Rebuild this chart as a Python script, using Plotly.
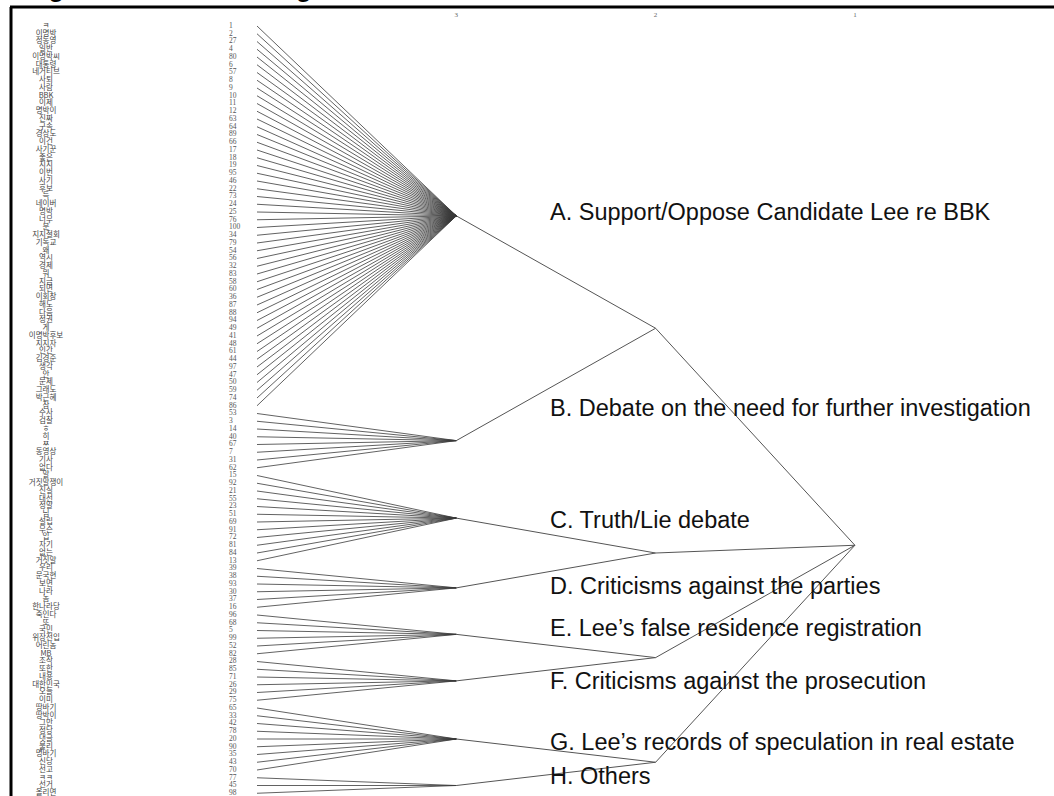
import plotly.graph_objects as go

# ---------------- data ----------------
leaf_words = [
    "ㅋ", "이명박", "정동영", "일반", "이명박씨", "대통령", "네거티브", "사퇴", "사람", "BBK",
    "이제", "명박이", "진짜", "구속", "경상도", "이건", "사기꾼", "좋은", "지지", "이번",
    "사기", "후보", "득", "네이버", "명박", "너무", "분", "지지철회", "기독교", "왜",
    "역시", "경제", "뭐", "지금", "되면", "이회창", "해도", "다음", "정권", "게",
    "이명박후보", "지지자", "인간", "김경준", "생각", "안", "문제", "그래도", "박근혜", "참",
    "수사", "검찰", "ㅎ", "히", "ㅉ", "동영상", "기사", "없다",
    "말", "거짓말쟁이", "진실", "대선", "정말", "님", "설립", "무슨", "입", "자기", "없는", "거짓말",
    "우리", "문국현", "보면", "나라", "놈", "한나라당",
    "죽인다", "또", "국민", "위장전입", "어린놈", "MB",
    "조작", "또한", "내용", "대한민국", "오늘", "이미",
    "땅바기", "땅박이", "그만", "정당", "댓글", "불리", "명바기", "신당", "선고",
    "ㅋㅋ", "선거", "올리면",
]
leaf_ids = [
    1, 2, 27, 4, 80, 6, 57, 8, 9, 10,
    11, 12, 63, 64, 89, 66, 17, 18, 19, 95,
    46, 22, 73, 24, 25, 76, 100, 34, 79, 54,
    56, 32, 83, 58, 60, 36, 87, 88, 94, 49,
    41, 48, 61, 44, 97, 47, 50, 59, 74, 86,
    53, 3, 14, 40, 67, 7, 31, 62,
    15, 92, 21, 55, 23, 51, 69, 91, 72, 81, 84, 13,
    39, 38, 93, 30, 37, 16,
    96, 68, 5, 99, 52, 82,
    28, 85, 71, 26, 29, 75,
    65, 33, 42, 78, 20, 90, 35, 43, 70,
    77, 45, 98,
]
cluster_names = ["A", "B", "C", "D", "E", "F", "G", "H"]
cluster_sizes = [50, 8, 12, 6, 6, 6, 9, 3]
cluster_topics = [
    "A. Support/Oppose Candidate Lee re BBK",
    "B. Debate on the need for further investigation",
    "C. Truth/Lie debate",
    "D. Criticisms against the parties",
    "E. Lee\u2019s false residence registration",
    "F. Criticisms against the prosecution",
    "G. Lee\u2019s records of speculation in real estate",
    "H. Others",
]
group_members = [["A", "B"], ["C", "D"], ["E", "F"], ["G", "H"]]
level_ticks = [3, 2, 1]
LEAF_LEVEL, CLUSTER_LEVEL, GROUP_LEVEL, ROOT_LEVEL = 4, 3, 2, 1

# ---------------- layout geometry (pixels) ----------------
W, H = 1054, 796
PX_PER_LEVEL = 199.3
LEAF_PX = 257.0
ROW0_PX, ROW_STEP = 26.0, 7.75


def lvl_at(px):
    return LEAF_LEVEL + (LEAF_PX - px) / PX_PER_LEVEL


def row_at(py):
    return (py - ROW0_PX) / ROW_STEP


# ---------------- tree structure ----------------
rows = list(range(len(leaf_ids)))
cluster_rows = {}
start = 0
for name, size in zip(cluster_names, cluster_sizes):
    cluster_rows[name] = rows[start:start + size]
    start += size

node_y = {}
for name in cluster_names:
    r = cluster_rows[name]
    node_y[name] = (r[0] + r[-1]) / 2.0
group_y = []
for members in group_members:
    group_y.append((node_y[members[0]] + node_y[members[-1]]) / 2.0)
root_y = (group_y[0] + group_y[-1]) / 2.0

xs1, ys1 = [], []
for name in cluster_names:
    for r in cluster_rows[name]:
        xs1 += [LEAF_LEVEL, CLUSTER_LEVEL, None]
        ys1 += [r, node_y[name], None]

xs2, ys2 = [], []
for members, gy in zip(group_members, group_y):
    for m in members:
        xs2 += [CLUSTER_LEVEL, GROUP_LEVEL, None]
        ys2 += [node_y[m], gy, None]
    xs2 += [GROUP_LEVEL, ROOT_LEVEL, None]
    ys2 += [gy, root_y, None]

fig = go.Figure()
fig.add_trace(go.Scatter(x=xs1, y=ys1, mode="lines",
                         line=dict(color="#3a3a3a", width=0.8),
                         hoverinfo="skip", showlegend=False))
fig.add_trace(go.Scatter(x=xs2, y=ys2, mode="lines",
                         line=dict(color="#555555", width=1),
                         hoverinfo="skip", showlegend=False))
# leaf words
fig.add_trace(go.Scatter(x=[lvl_at(46)] * len(rows), y=rows, mode="text",
                         text=leaf_words, textposition="middle center",
                         textfont=dict(family="Noto Sans CJK KR", size=7.5, color="#444"),
                         hoverinfo="skip", showlegend=False))
# leaf ids
fig.add_trace(go.Scatter(x=[lvl_at(229)] * len(rows), y=rows, mode="text",
                         text=[str(v) for v in leaf_ids], textposition="middle right",
                         textfont=dict(family="Liberation Serif", size=7.5, color="#555"),
                         hoverinfo="skip", showlegend=False))

text_shift = {"A": 4, "B": 33, "C": -2, "D": 2, "E": 6, "F": 0, "G": -3, "H": 10}
annotations = []
for name, topic in zip(cluster_names, cluster_topics):
    annotations.append(dict(
        x=548 / W, xref="paper", xanchor="left",
        y=node_y[name], yref="y", yanchor="middle", yshift=text_shift[name],
        text=topic, showarrow=False,
        font=dict(family="Liberation Sans", size=23.5, color="#111")))
annotations.append(dict(
    x=22 / W, xref="paper", xanchor="left",
    y=1 - 3.5 / H, yref="paper", yanchor="bottom",
    text="<b>Figure 3. The tree diagram</b>", showarrow=False,
    font=dict(family="Liberation Sans", size=27, color="#000")))

fig.update_layout(
    width=W, height=H,
    margin=dict(l=0, r=0, t=0, b=0),
    paper_bgcolor="white", plot_bgcolor="white",
    xaxis=dict(range=[lvl_at(0), lvl_at(W)], showgrid=False, zeroline=False,
               showline=False, side="top", anchor="free", position=1 - 18 / H,
               tickvals=level_ticks, ticktext=[str(v) for v in level_ticks],
               ticks="", tickfont=dict(family="Liberation Serif", size=7, color="#666")),
    yaxis=dict(range=[row_at(H), row_at(0)], showgrid=False, zeroline=False,
               showline=False, showticklabels=False, ticks=""),
    annotations=annotations,
    shapes=[
        dict(type="line", xref="paper", yref="paper", x0=10 / W, x1=1, y0=1 - 7 / H, y1=1 - 7 / H,
             line=dict(color="black", width=3)),
        dict(type="line", xref="paper", yref="paper", x0=11 / W, x1=11 / W, y0=1 - 7 / H, y1=0,
             line=dict(color="black", width=3)),
    ],
)

fig.write_html("out.html", config={"displayModeBar": False},
               post_script="document.body.style.margin='0';")
